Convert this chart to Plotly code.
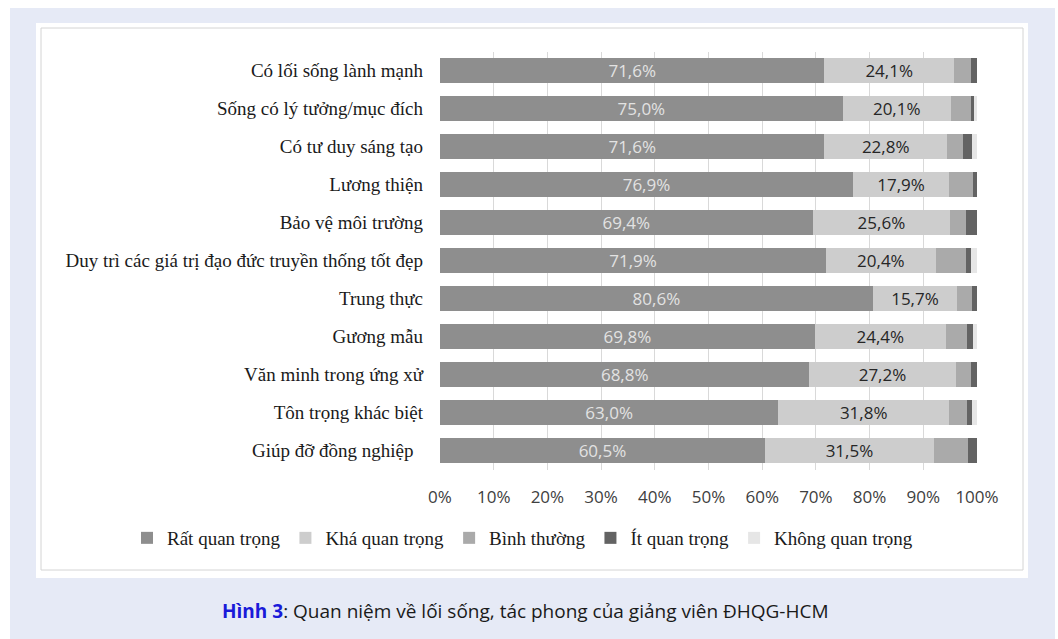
import plotly.graph_objects as go

W, H = 1058, 639

categories = [
    "Có lối sống lành mạnh",
    "Sống có lý tưởng/mục đích",
    "Có tư duy sáng tạo",
    "Lương thiện",
    "Bảo vệ môi trường",
    "Duy trì các giá trị đạo đức truyền thống tốt đẹp",
    "Trung thực",
    "Gương mẫu",
    "Văn minh trong ứng xử",
    "Tôn trọng khác biệt",
    "Giúp đỡ đồng nghiệp\u00a0\u00a0",
]

series_names = ["Rất quan trọng", "Khá quan trọng", "Bình thường", "Ít quan trọng", "Không quan trọng"]

rat_quan_trong = [71.6, 75.0, 71.6, 76.9, 69.4, 71.9, 80.6, 69.8, 68.8, 63.0, 60.5]
kha_quan_trong = [24.1, 20.1, 22.8, 17.9, 25.6, 20.4, 15.7, 24.4, 27.2, 31.8, 31.5]
binh_thuong = [3.2, 3.8, 3.0, 4.5, 2.9, 5.6, 2.8, 4.0, 2.9, 3.4, 6.4]
it_quan_trong = [1.1, 0.5, 1.7, 0.7, 2.1, 1.0, 0.9, 1.1, 1.1, 0.9, 1.6]
khong_quan_trong = [0.0, 0.6, 0.9, 0.0, 0.0, 1.1, 0.0, 0.7, 0.0, 0.9, 0.0]

x_ticks = [0, 10, 20, 30, 40, 50, 60, 70, 80, 90, 100]
x_tick_labels = [f"{t}%" for t in x_ticks]

caption_bold = "Hình 3"
caption_rest = ": Quan niệm về lối sống, tác phong của giảng viên ĐHQG-HCM"

colors = ["#8e8e8e", "#cdcdcd", "#aaaaaa", "#636363", "#e6e6e6"]
values = [rat_quan_trong, kha_quan_trong, binh_thuong, it_quan_trong, khong_quan_trong]
show_text = [True, True, False, False, False]
text_colors = ["#e2e2e2", "#262626", "#262626", "#262626", "#262626"]

SERIF = "Liberation Serif, Times New Roman, serif"
SANS = "Open Sans, sans-serif"

def fmt(v):
    return f"{v:.1f}".replace(".", ",") + "%"

fig = go.Figure()
for name, vals, col, st, tc in zip(series_names, values, colors, show_text, text_colors):
    fig.add_trace(go.Bar(
        y=categories, x=vals, name=name, orientation="h",
        marker=dict(color=col, line=dict(width=0)),
        text=[fmt(v) for v in vals] if st else None,
        textposition="inside" if st else "none",
        insidetextanchor="middle",
        textangle=0,
        constraintext="none",
        textfont=dict(family=SANS, size=17, color=tc),
        hoverinfo="x+y+name",
    ))

def px_x(p):
    return p / W

def px_y(p):
    return 1 - p / H

shapes = [
    dict(type="rect", xref="paper", yref="paper", x0=px_x(10), x1=px_x(1055), y0=0, y1=px_y(8),
         fillcolor="#e6eaf6", line=dict(width=0), layer="below"),
    dict(type="rect", xref="paper", yref="paper", x0=px_x(36), x1=px_x(1028), y0=px_y(578), y1=px_y(23),
         fillcolor="#ffffff", line=dict(width=0), layer="below"),
    dict(type="rect", xref="paper", yref="paper", x0=px_x(41), x1=px_x(1023), y0=px_y(570), y1=px_y(28),
         fillcolor="rgba(0,0,0,0)", line=dict(width=1, color="#d4d4d4"), layer="below"),
]

fig.update_layout(
    width=W, height=H, autosize=False,
    margin=dict(l=0, r=0, t=0, b=0, autoexpand=False),
    paper_bgcolor="#ffffff", plot_bgcolor="rgba(0,0,0,0)",
    barmode="stack", bargap=0.34,
    shapes=shapes,
    showlegend=True,
    legend=dict(orientation="h", x=px_x(127), y=px_y(519), xanchor="left", yanchor="top",
                font=dict(family=SERIF, size=19, color="#1a1a1a"),
                bgcolor="rgba(0,0,0,0)", traceorder="normal", itemwidth=30),
    xaxis=dict(domain=[px_x(440), px_x(977)], range=[0, 100], tickvals=x_ticks, ticktext=x_tick_labels,
               showgrid=True, gridcolor="#d9d9d9", gridwidth=1, zeroline=False, showline=False,
               ticks="", ticklabelstandoff=15, automargin=False,
               tickfont=dict(family=SANS, size=17, color="#404040"),
               anchor="y", fixedrange=True),
    yaxis=dict(domain=[px_y(469.5), px_y(51.5)], autorange="reversed", showgrid=False, zeroline=False,
               showline=False, ticks="", ticklabelstandoff=16, automargin=False,
               tickfont=dict(family=SERIF, size=19, color="#1a1a1a"),
               fixedrange=True),
    annotations=[
        dict(xref="paper", yref="paper", x=px_x(525), y=px_y(611), xanchor="center", yanchor="middle",
             showarrow=False,
             text=f"<b><span style='color:#1a1ad9'>{caption_bold}</span></b>{caption_rest}",
             font=dict(family=SANS, size=19, color="#1a1a1a")),
    ],
)

post = (
    "document.documentElement.style.margin='0';document.documentElement.style.padding='0';"
    "document.body.style.margin='0';document.body.style.padding='0';document.body.style.overflow='hidden';"
)

fig.write_html("out.html", config={"responsive": False, "displayModeBar": False}, post_script=post)
